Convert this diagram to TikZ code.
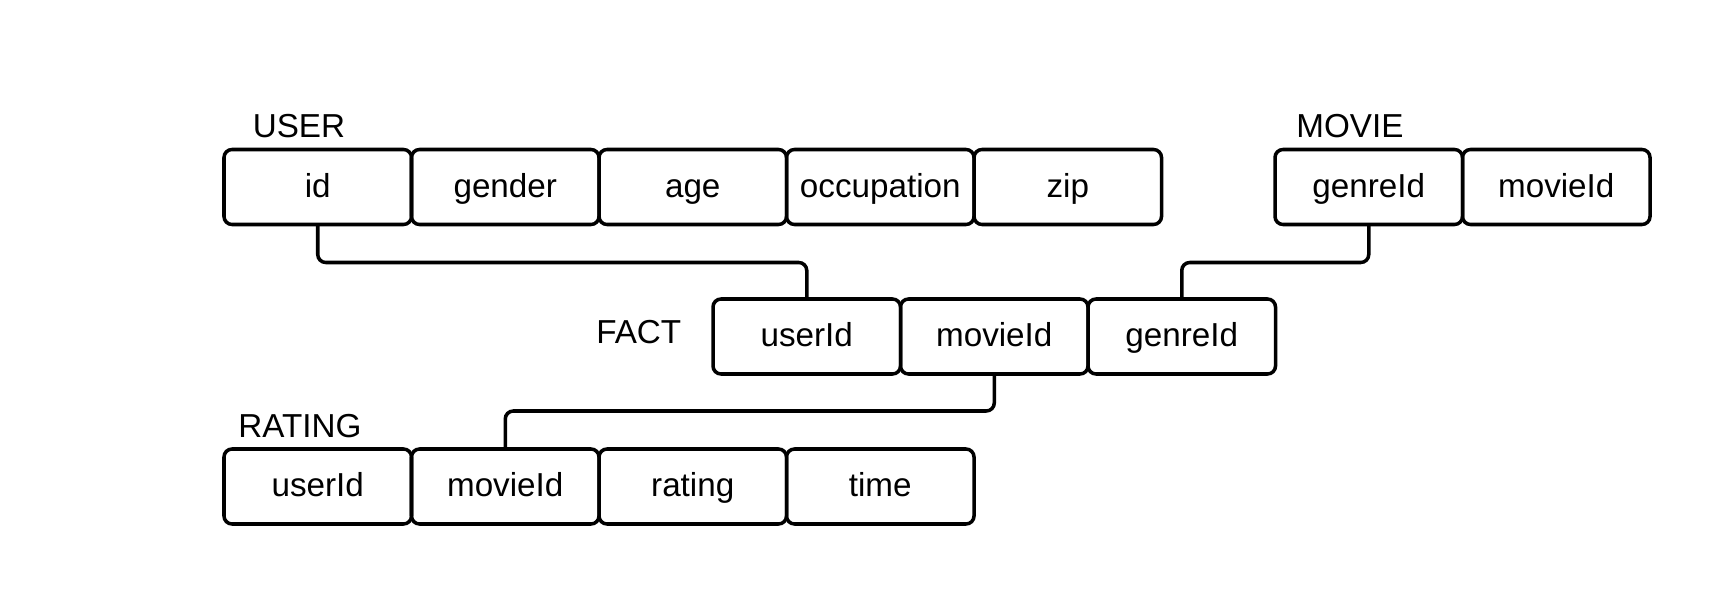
\documentclass[tikz,border=0pt]{standalone}
\usepackage{fontspec}
\setmainfont{Liberation Sans}
\usepackage{tikz}

\tikzset{
  field/.style={draw, line width=2pt, rounded corners=0.16cm, outer sep=0pt,
    minimum width=3.75cm, minimum height=1.5cm, text height=0.55cm, text depth=0.15cm},
  tname/.style={anchor=base west, inner sep=0pt},
  link/.style={line width=2pt, rounded corners=0.16cm}
}

\begin{document}
\begin{tikzpicture}[font=\fontsize{18.9}{22}\selectfont]
    \useasboundingbox (0,0) rectangle (34.5,12); % page size
    % table names
    \node[tname] (lbluser) at (5.05,9.24) {USER};
    \node[tname] (lblmovie) at (25.92,9.24) {MOVIE};
    \node[tname] (lblfact) at (11.92,5.14) {FACT};
    \node[tname] (lblrating) at (4.76,3.26) {RATING};
    % fields
    \foreach \t [count=\i] in {id,gender,age,occupation,zip}
    \node[field] (user\i) at ({6.355+3.75*(\i-1)},8.26) {\t};
    \foreach \t [count=\i] in {genreId,movieId}
    \node[field] (movie\i) at ({27.375+3.75*(\i-1)},8.26) {\t};
    \foreach \t [count=\i] in {userId,movieId,genreId}
    \node[field] (fact\i) at ({16.135+3.75*(\i-1)},5.27) {\t};
    \foreach \t [count=\i] in {userId,movieId,rating,time}
    \node[field] (rating\i) at ({6.355+3.75*(\i-1)},2.27) {\t};
    % keys
    \draw[link] (user1.south) -- ++(0,-0.76) -| (fact1.north);
    \draw[link] (movie1.south) -- ++(0,-0.76) -| (fact3.north);
    \draw[link] (fact2.south) -- ++(0,-0.74) -| (rating2.north);
  \end{tikzpicture}
\end{document}
